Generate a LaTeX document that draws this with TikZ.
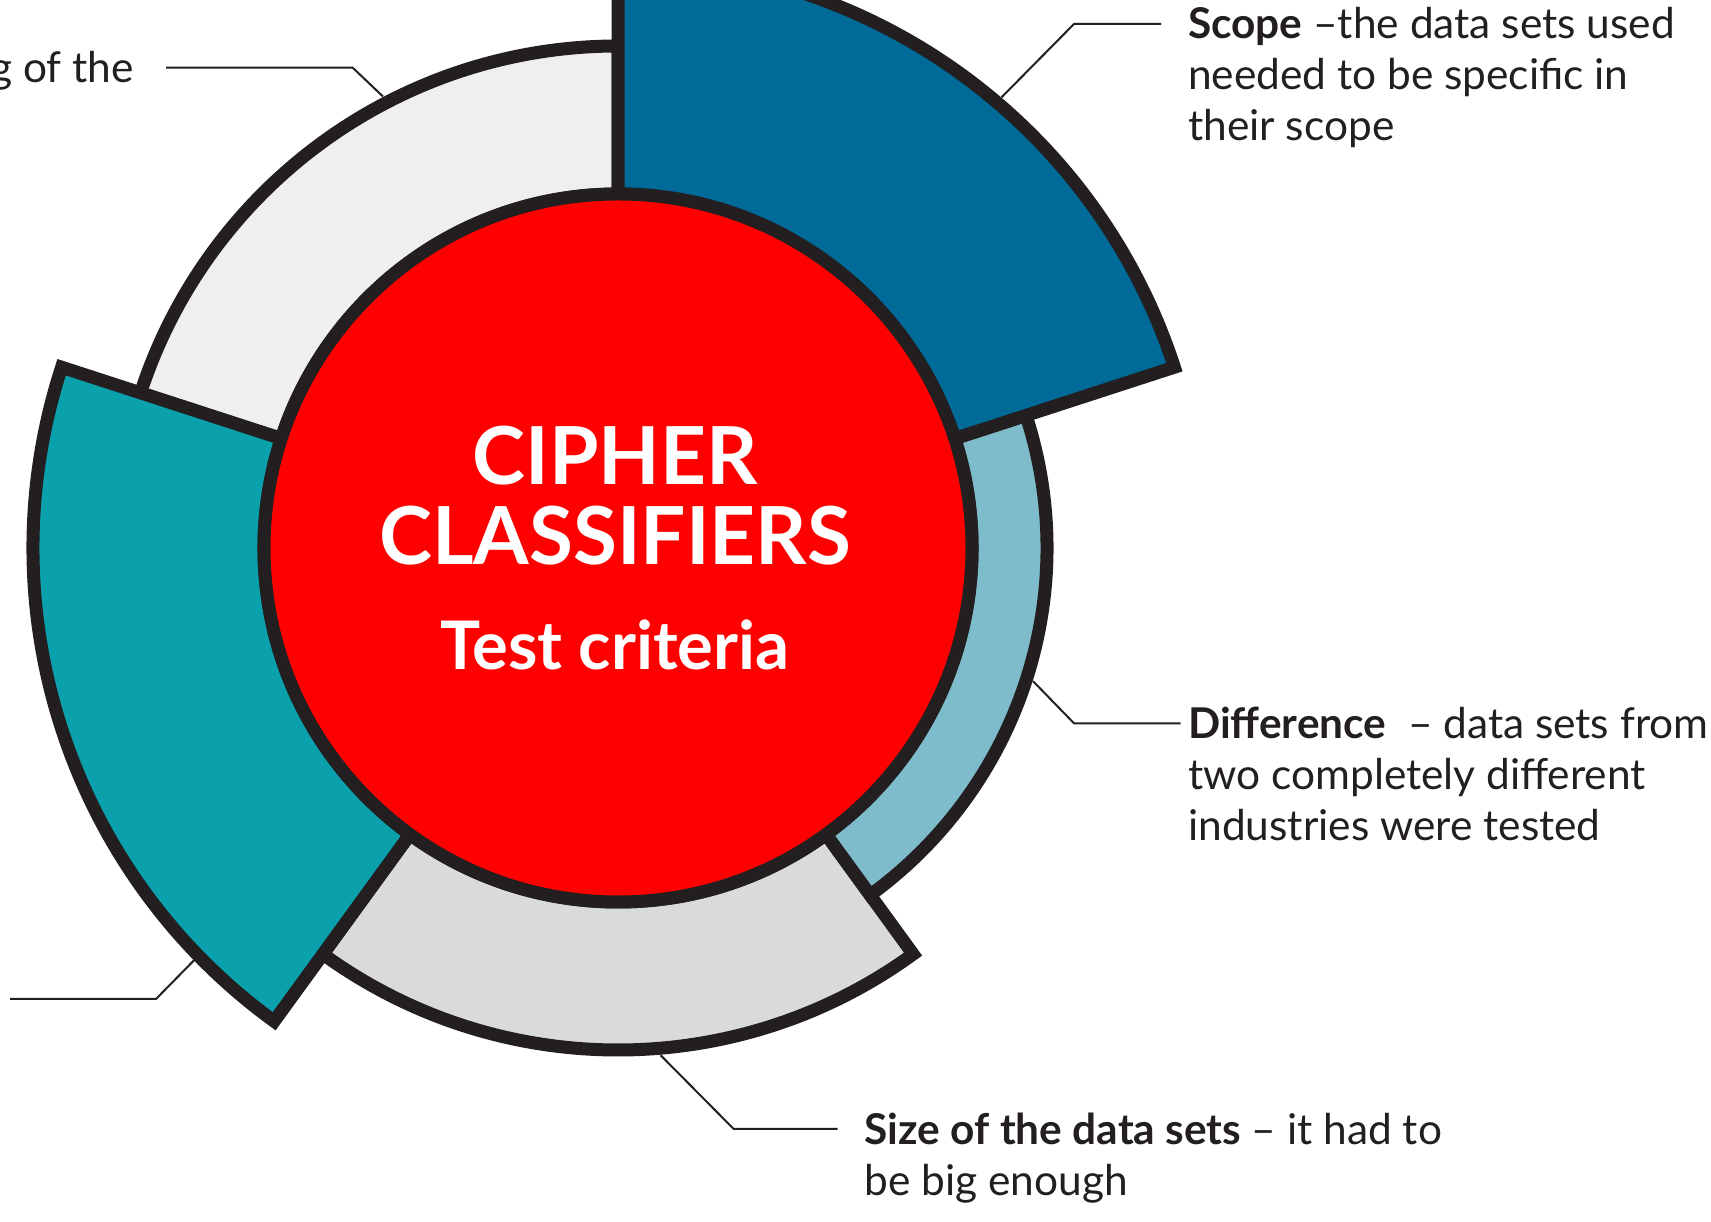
\documentclass[tikz,border=0pt]{standalone}
\usepackage{fontspec}
\setmainfont{Lato}
\definecolor{ink}{HTML}{231F20}
\definecolor{segblue}{HTML}{006A99}
\definecolor{segteal}{HTML}{0AA1AD}
\definecolor{seglight}{HTML}{7EBCCB}
\definecolor{seggrayA}{HTML}{EFEFEF}
\definecolor{seggrayB}{HTML}{D9DBDA}
\definecolor{core}{HTML}{FF0000}
\begin{document}
\begin{tikzpicture}[x=1pt,y=1pt,
  seg/.style={draw=ink,line width=13pt,line join=miter},
  lead/.style={draw=ink,line width=2pt},
  label/.style={anchor=base west,inner sep=0pt,align=left,text=ink,
    font=\fontsize{42.4}{51}\selectfont},
  centre/.style={inner sep=0pt,text=white,font=\bfseries\fontsize{80}{80}\selectfont,align=center}]
\useasboundingbox (0,0) rectangle (1711,1221);
\fill[white] (0,0) rectangle (1711,1221);

% ring of five 72-degree segments around the core
\begin{scope}[shift={(618,673)}]
  \path[seg,fill=seggrayA] (90:354) -- (90:502) arc (90:162:502) -- (162:354) arc (162:90:354) -- cycle;
  \path[seg,fill=seggrayB] (234:354) -- (234:502) arc (234:306:502) -- (306:354) arc (306:234:354) -- cycle;
  \path[seg,fill=seglight] (-54:354) -- (-54:429) arc (-54:18:429) -- (18:354) arc (18:-54:354) -- cycle;
  \path[seg,fill=segblue] (18:354) -- (18:585) arc (18:90:585) -- (90:354) arc (90:18:354) -- cycle;
  \path[seg,fill=segteal] (162:354) -- (162:585) arc (162:234:585) -- (234:354) arc (234:162:354) -- cycle;
  \path[seg,fill=core] (0,0) circle (354);

  % points where the leader lines touch the ring
  \coordinate (tipTL) at (117.5:509);
  \coordinate (tipBL) at (224.2:591);
  \coordinate (tipScope) at (49.6:592);
  \coordinate (tipDiff) at (-17.8:436);
  \coordinate (tipSize) at (-85.2:509);
\end{scope}

% central title (node base = baseline of its last line)
\node[centre,anchor=base] (title) at (615,656) {CIPHER\\CLASSIFIERS};
\node[centre,anchor=base,font=\bfseries\fontsize{67}{70}\selectfont] (sub) at (615,551) {Test criteria};

% labels (anchored on the baseline of the last line)
\node[label,anchor=base east] (lblTL) at (134,1138) {g of the};
\node[label] (lblScope) at (1188,1080) {\textbf{Scope} –the data sets used\\needed to be specific in\\their scope};
\node[label] (lblDiff) at (1188,380) {\textbf{Difference}\ \ – data sets from\\two completely different\\industries were tested};
\node[label] (lblSize) at (864.5,25.5) {\textbf{Size of the data sets} – it had to\\be big enough};

% leader lines
\coordinate (kTL1) at (166,1153.3);
\coordinate (kTL2) at (352.7,1153.3);
\coordinate (kBL1) at (10,222);
\coordinate (kBL2) at (156,222);
\coordinate (kSc1) at (1161,1197);
\coordinate (kSc2) at (1074,1197);
\coordinate (kDf1) at (1180.5,497.7);
\coordinate (kDf2) at (1074,497.7);
\coordinate (kSz1) at (837.7,92);
\coordinate (kSz2) at (733.7,92);

\draw[lead] (kTL1) -- (kTL2) -- (tipTL);
\draw[lead] (kBL1) -- (kBL2) -- (tipBL);
\draw[lead] (kSc1) -- (kSc2) -- (tipScope);
\draw[lead] (kDf1) -- (kDf2) -- (tipDiff);
\draw[lead] (kSz1) -- (kSz2) -- (tipSize);
\end{tikzpicture}
\end{document}
